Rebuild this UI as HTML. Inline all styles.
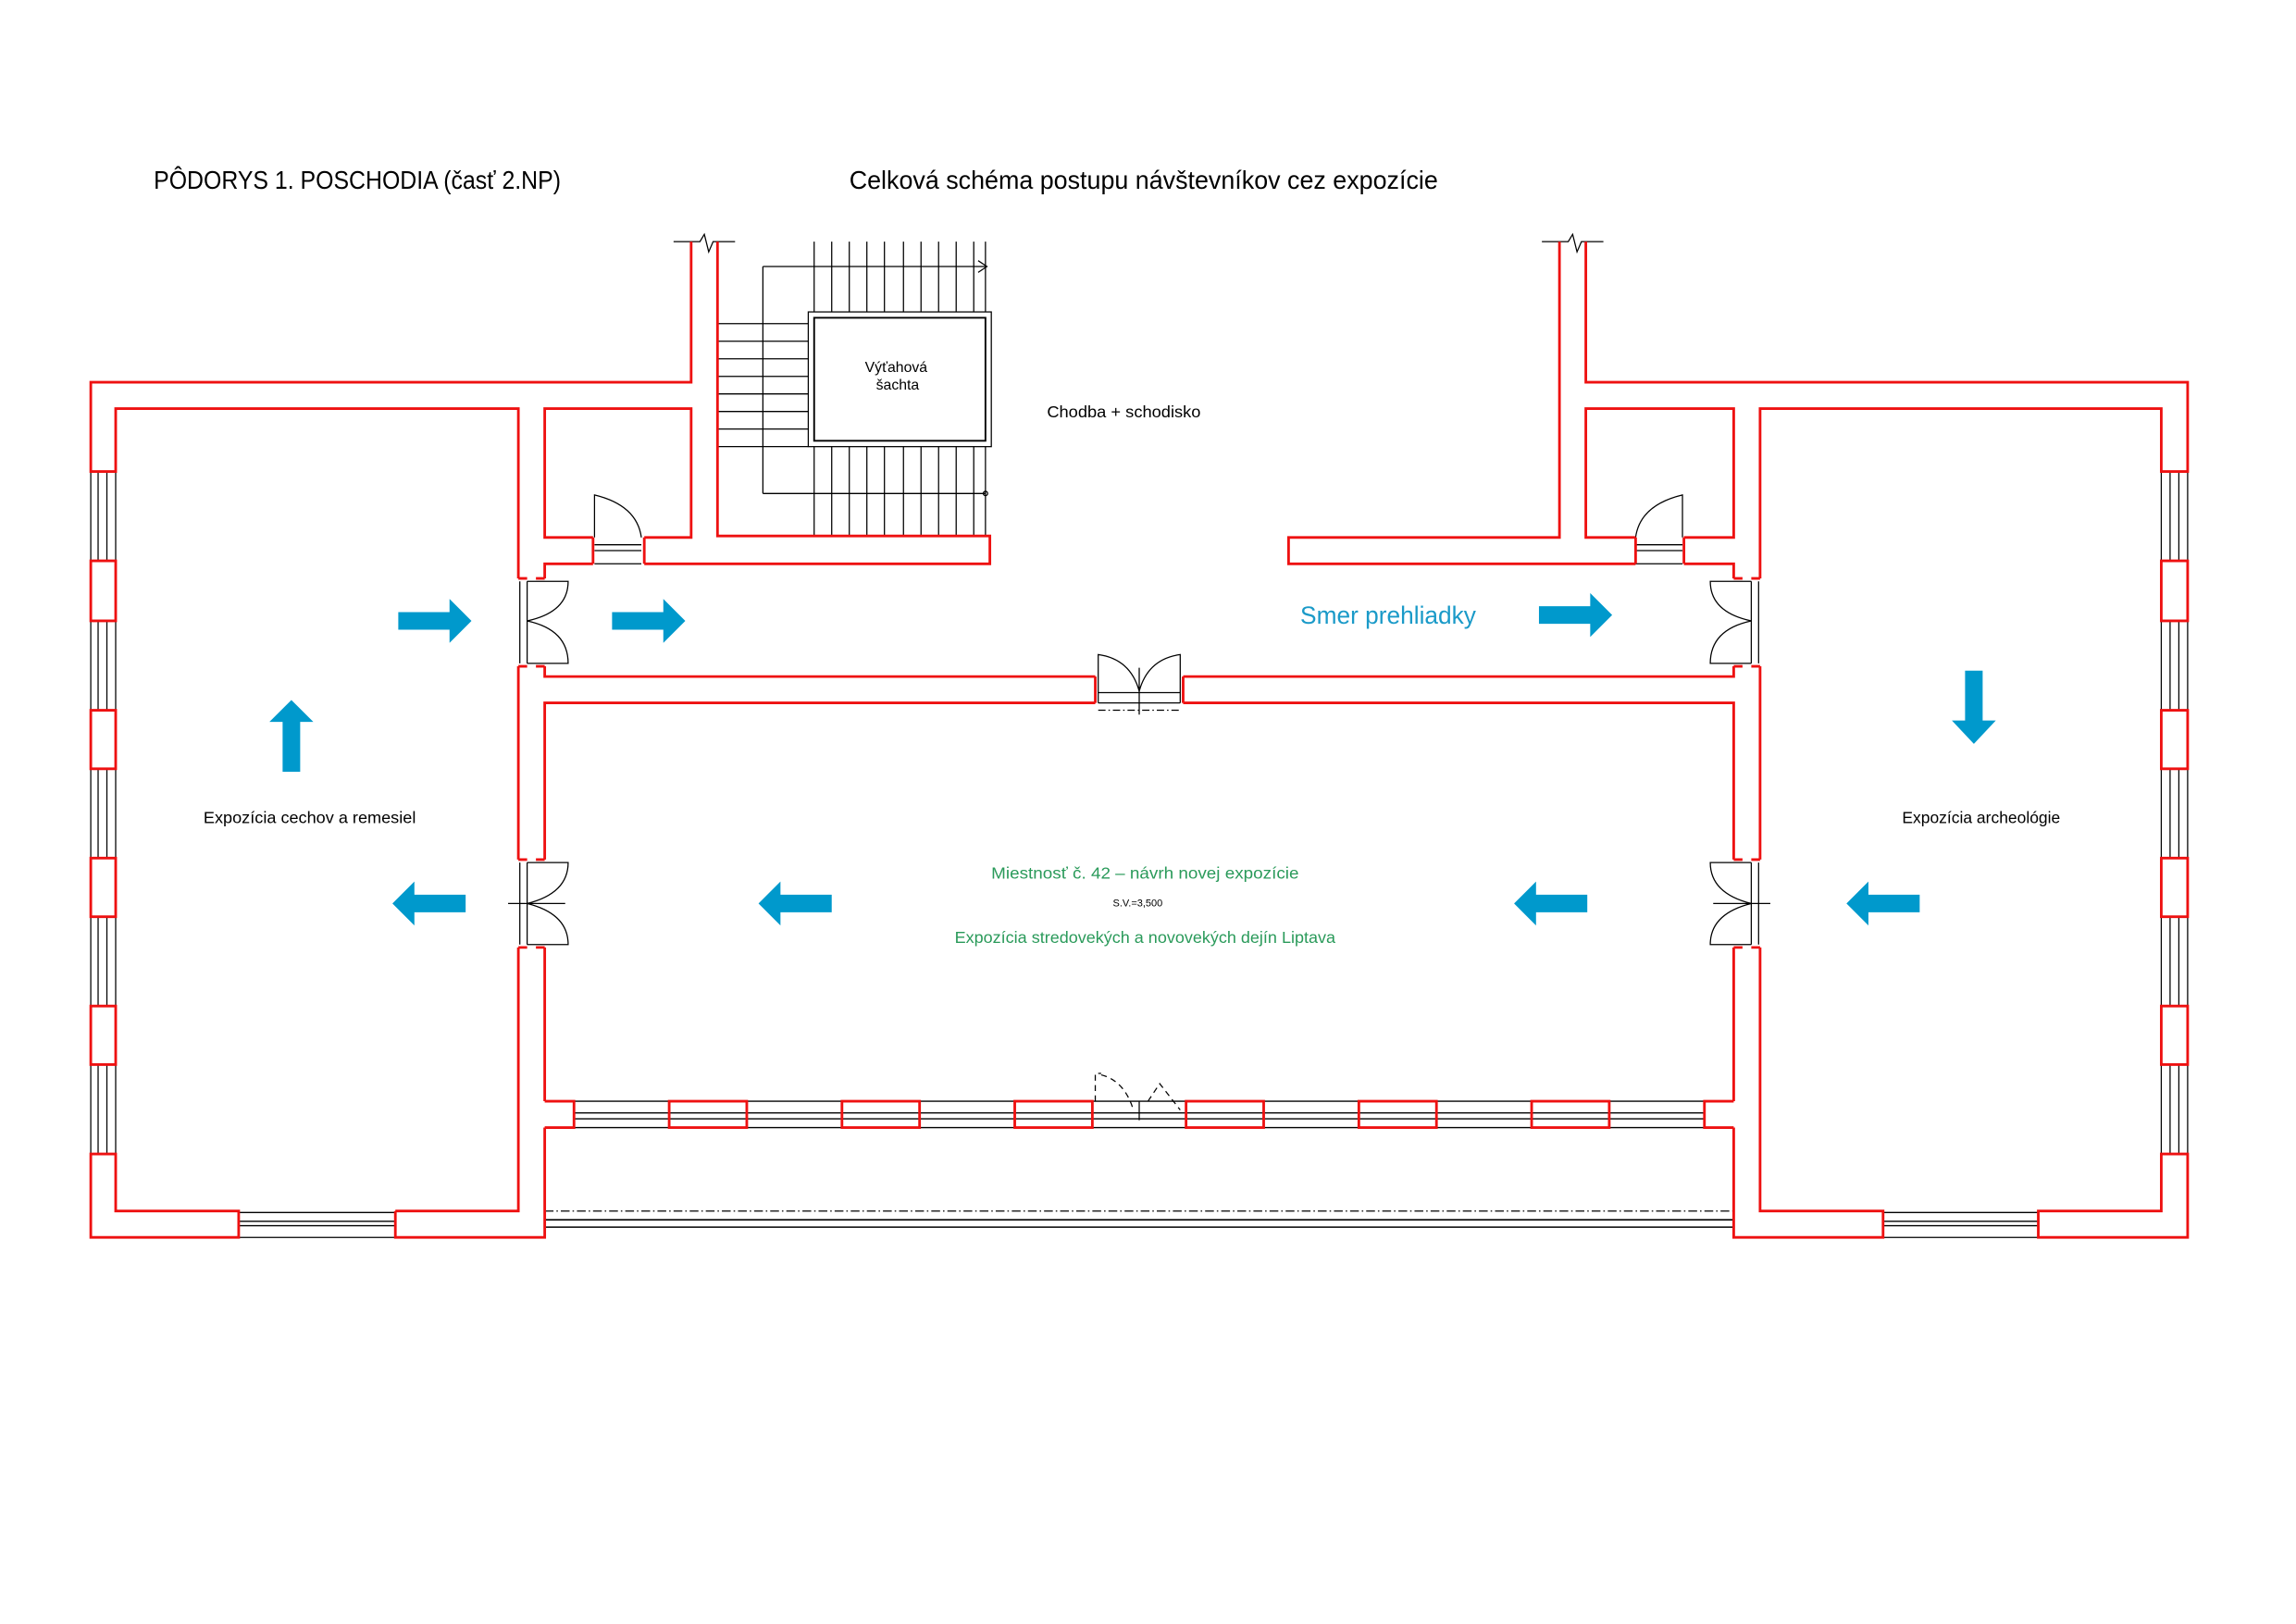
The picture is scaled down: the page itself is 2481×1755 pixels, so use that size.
<!DOCTYPE html>
<html><head><meta charset="utf-8"><style>
html,body{margin:0;padding:0;background:#fff;}
svg{display:block;}
text{font-family:"Liberation Sans",sans-serif;}
</style></head><body>
<svg width="2481" height="1755" viewBox="0 0 1568 1109" preserveAspectRatio="none" xmlns="http://www.w3.org/2000/svg">
<rect width="1568" height="1109" fill="#fff"/>
<text x="105" y="129" font-size="17.5" textLength="278" lengthAdjust="spacingAndGlyphs">PÔDORYS 1. POSCHODIA (časť 2.NP)</text>
<text x="580" y="129" font-size="17.5" textLength="402" lengthAdjust="spacingAndGlyphs">Celková schéma postupu návštevníkov cez expozície</text>
<text x="715" y="285" font-size="11" textLength="105" lengthAdjust="spacingAndGlyphs">Chodba + schodisko</text>
<text x="888" y="426" font-size="17" fill="#1a9ac8" textLength="120" lengthAdjust="spacingAndGlyphs">Smer prehliadky</text>
<text x="139" y="562" font-size="11" textLength="145" lengthAdjust="spacingAndGlyphs">Expozícia cechov a remesiel</text>
<text x="1299" y="562" font-size="11" textLength="108" lengthAdjust="spacingAndGlyphs">Expozícia archeológie</text>
<text x="677" y="600" font-size="11" fill="#2a9a5a" textLength="210" lengthAdjust="spacingAndGlyphs">Miestnosť č. 42 – návrh novej expozície</text>
<text x="760" y="619" font-size="7" textLength="34" lengthAdjust="spacingAndGlyphs">S.V.=3,500</text>
<text x="652" y="644" font-size="11" fill="#2a9a5a" textLength="260" lengthAdjust="spacingAndGlyphs">Expozícia stredovekých a novovekých dejín Liptava</text>
<text x="612" y="254" font-size="10" text-anchor="middle">Výťahová</text>
<text x="613" y="266" font-size="10" text-anchor="middle">šachta</text>

<g stroke="#000" stroke-width="0.8" fill="none">
 <path d="M460 165 H478 L481 160 L484 172 L487 165 H502"/>
 <path d="M1053 165 H1071 L1074 160 L1077 172 L1080 165 H1095"/>
 <path d="M556 165V213 M568 165V213 M580 165V213 M592 165V213 M604 165V213 M617 165V213 M629 165V213 M641 165V213 M653 165V213 M665 165V213 M673 165V213"/>
 <path d="M556 305V366 M568 305V366 M580 305V366 M592 305V366 M604 305V366 M617 305V366 M629 305V366 M641 305V366 M653 305V366 M665 305V366 M673 305V366"/>
 <path d="M490 221H552 M490 233H552 M490 245H552 M490 257H552 M490 269H552 M490 281H552 M490 293H552 M490 305H552"/>
 <path d="M521 182V337 M521 182H673 M668 178L674 182L668 186 M521 337H673"/>
 <circle cx="673" cy="337" r="1.5"/>
 <rect x="552" y="213" width="125" height="92"/>
 <rect x="556" y="217" width="117" height="84" stroke-width="1.2"/>
 <path d="M62 322V383 M67 322V383 M73 322V383 M79 322V383"/>
 <path d="M62 424V485 M67 424V485 M73 424V485 M79 424V485"/>
 <path d="M62 525V586 M67 525V586 M73 525V586 M79 525V586"/>
 <path d="M62 626V687 M67 626V687 M73 626V687 M79 626V687"/>
 <path d="M62 727V788 M67 727V788 M73 727V788 M79 727V788"/>
 <path d="M1476 322V383 M1482 322V383 M1488 322V383 M1494 322V383"/>
 <path d="M1476 424V485 M1482 424V485 M1488 424V485 M1494 424V485"/>
 <path d="M1476 525V586 M1482 525V586 M1488 525V586 M1494 525V586"/>
 <path d="M1476 626V687 M1482 626V687 M1488 626V687 M1494 626V687"/>
 <path d="M1476 727V788 M1482 727V788 M1488 727V788 M1494 727V788"/>
 <path d="M163 828H270 M163 834H270 M163 837H270 M163 845H270"/>
 <path d="M1286 828H1392 M1286 834H1392 M1286 837H1392 M1286 845H1392"/>
 <path d="M372 827H1184" stroke-dasharray="6 2 1 2"/>
 <path d="M372 833H1184 M372 838H1184" stroke-width="1"/>
 <path d="M392 752H1164 M392 760H1164 M392 764H1164 M392 770H1164" stroke-width="0.9"/>
 <path d="M392 752V770 M1164 752V770"/>
 <path d="M748 752V733H752 M752 734 Q768 738 774 758 M784 752 L792 740 L806 758" stroke-dasharray="4 3"/>
 <path d="M778 752V765"/>
 <path d="M406 367V338 Q435 345 438 367 M406 372H438 M406 376H438 M406 385H438"/>
 <path d="M1149 367V338 Q1120 345 1117 367 M1117 372H1149 M1117 376H1149 M1117 385H1149"/>
 <path d="M360 397H388 Q388 418 360 424 Q388 430 388 453 H360 M360 397V453 M355 397V453"/>
 <path d="M360 589H388 Q388 610 360 617 Q388 624 388 645 H360 M360 589V645 M355 589V645 M347 617H386" />
 <path d="M1196 397H1168 Q1168 418 1196 424 Q1168 430 1168 453 H1196 M1196 397V453 M1201 397V453"/>
 <path d="M1196 589H1168 Q1168 610 1196 617 Q1168 624 1168 645 H1196 M1196 589V645 M1201 589V645 M1170 617H1209"/>
 <path d="M750 480V447 Q772 450 778 472 Q784 450 806 447 V480 M750 480H806 M750 473H806 M778 456V488"/>
 <path d="M750 485H806" stroke-dasharray="5 2 1 2"/>
</g>

<g stroke="#ee1111" stroke-width="1.8" fill="none" stroke-linejoin="miter">
 <path d="M472 165V261H62V322H79V279H354V395"/>
 <path d="M62 383H79V424H62Z M62 485H79V525H62Z M62 586H79V626H62Z M62 687H79V727H62Z"/>
 <path d="M62 788V845H163V827H79V788Z"/>
 <path d="M270 827H354V647 M354 587V455"/>
 <path d="M270 827V845H372V770"/>
 <path d="M372 752V647 M372 587V480H748 M808 480H1184V587 M1184 647V752"/>
 <path d="M372 455V462H748 M808 462H1184V455"/>
 <path d="M372 395V385H405 M440 385H676V366H490V165"/>
 <path d="M405 367H372V279H472V367H440"/>
 <path d="M405 367V385 M440 367V385 M748 462V480 M808 462V480"/>
 <path d="M1065 165V367H880V385H1117 M1150 385H1184V395"/>
 <path d="M1083 165V261H1494V322H1476V279H1202V395"/>
 <path d="M1117 367H1083V279H1184V367H1150"/>
 <path d="M1117 367V385 M1150 367V385"/>
 <path d="M1202 455V587 M1202 647V827H1286V845H1184V770"/>
 <path d="M1476 383H1494V424H1476Z M1476 485H1494V525H1476Z M1476 586H1494V626H1476Z M1476 687H1494V727H1476Z"/>
 <path d="M1494 788V845H1392V827H1476V788Z"/>
 <path d="M354 395H360 M354 455H360 M372 395H366 M372 455H366"/>
 <path d="M354 587H360 M354 647H360 M372 587H366 M372 647H366"/>
 <path d="M1184 395H1190 M1184 455H1190 M1202 395H1196 M1202 455H1196"/>
 <path d="M1184 587H1190 M1184 647H1190 M1202 587H1196 M1202 647H1196"/>
 <path d="M372 752H392V770H372"/>
 <path d="M1184 752H1164V770H1184"/>
 <rect x="457" y="752" width="53" height="18"/>
 <rect x="575" y="752" width="53" height="18"/>
 <rect x="693" y="752" width="53" height="18"/>
 <rect x="810" y="752" width="53" height="18"/>
 <rect x="928" y="752" width="53" height="18"/>
 <rect x="1046" y="752" width="53" height="18"/>
</g>

<g fill="#0099cc">
 <polygon points="272,418 307,418 307,409 322,424 307,439 307,430 272,430"/>
 <polygon points="418,418 453,418 453,409 468,424 453,439 453,430 418,430"/>
 <polygon points="1051,414 1086,414 1086,405 1101,420 1086,435 1086,426 1051,426"/>
 <polygon points="193,527 193,493 184,493 199,478 214,493 205,493 205,527"/>
 <polygon points="1342,458 1342,492 1333,492 1348,508 1363,492 1354,492 1354,458"/>
 <polygon points="318,611 283,611 283,602 268,617 283,632 283,623 318,623"/>
 <polygon points="568,611 533,611 533,602 518,617 533,632 533,623 568,623"/>
 <polygon points="1084,611 1049,611 1049,602 1034,617 1049,632 1049,623 1084,623"/>
 <polygon points="1311,611 1276,611 1276,602 1261,617 1276,632 1276,623 1311,623"/>
</g>
</svg>
</body></html>
